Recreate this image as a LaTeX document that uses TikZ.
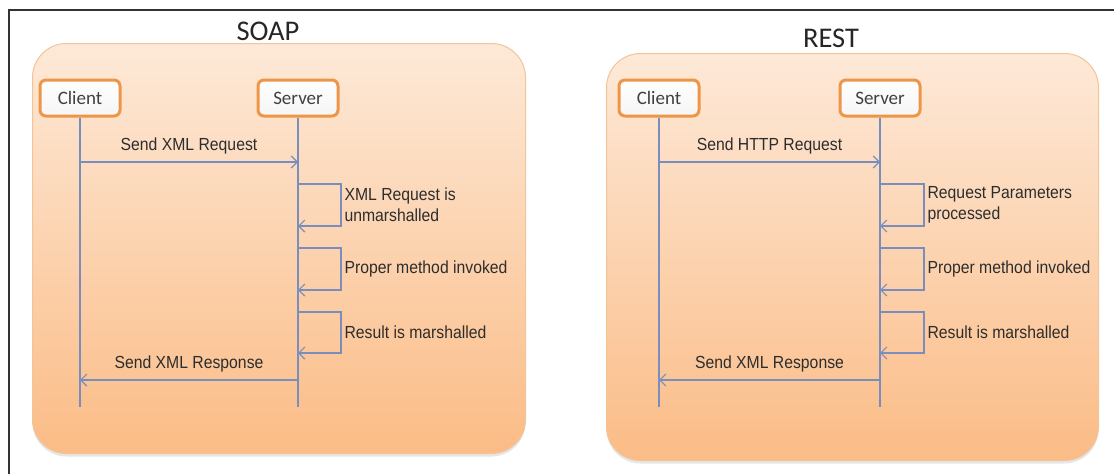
\documentclass[tikz,border=0pt]{standalone}
\usepackage{fontspec}
\setmainfont{Liberation Sans}[FakeStretch=0.9]
\newfontfamily\titlefont{Carlito}
\usepackage{tikz}
\usetikzlibrary{arrows.meta,positioning,shadows}

\definecolor{paneltop}{RGB}{253,233,216}
\definecolor{panelbottom}{RGB}{251,188,134}
\definecolor{paneledge}{RGB}{243,196,152}
\definecolor{boxorange}{RGB}{238,150,72}
\definecolor{lifeblue}{RGB}{122,142,190}
\definecolor{labelgrey}{RGB}{45,45,45}

\begin{document}
\begin{tikzpicture}[
  x=1pt, y=-1pt,
  panel/.style={
    draw=paneledge,
    line width=1pt,
    rounded corners=34pt,
    top color=paneltop,
    bottom color=panelbottom,
    minimum width=493pt,
    minimum height=410pt,
    anchor=north west,
    drop shadow={shadow xshift=0pt, shadow yshift=-3pt, opacity=0.2}
  },
  title/.style={font=\titlefont\fontsize{28.5}{32}\selectfont, text=black!85, inner sep=0pt, anchor=base},
  party/.style={
    draw=boxorange,
    line width=3pt,
    rounded corners=6pt,
    top color=white,
    bottom color=black!4,
    minimum width=80pt,
    minimum height=36pt,
    font=\titlefont\fontsize{19}{22}\selectfont,
    text=black!75
  },
  lifeline/.style={draw=lifeblue, line width=1.2pt},
  msg/.style={lifeline, -{Straight Barb[length=6pt, width=12pt]}},
  msglabel/.style={font=\fontsize{17.5}{21}\selectfont, text=labelgrey},
  note/.style={msglabel, align=left, anchor=west, inner sep=3pt}
]

\useasboundingbox (0,0) rectangle (1114,474);

% page frame, cut off at the right and bottom
\draw[line width=1.6pt, black!80] (9,474) -- (9,10) -- (1114,10);

% ---- SOAP
\node[panel] (soapPanel) at (32,43) {};
\node[title] (soapTitle) at (268,40) {SOAP};

\node[party] (soapClient) at (80,98) {Client};
\node[party] (soapServer) at (298,98) {Server};

\coordinate (soapClientEnd) at (80,407);
\coordinate (soapServerEnd) at (298,407);
\draw[lifeline] (soapClient) -- (soapClientEnd);
\draw[lifeline] (soapServer) -- (soapServerEnd);

\coordinate (soapReqC) at (80,162);
\coordinate (soapReqS) at (298,162);
\draw[msg] (soapReqC) -- node[msglabel, above=4pt] (soapReqLabel) {Send XML Request} (soapReqS);

\foreach \ya/\yb/\txt [count=\i] in {184/226/{XML Request is\\unmarshalled},
    248/290/{Proper method invoked}, 312/353/{Result is marshalled}} {
  \coordinate (soapLoop\i a) at (298,\ya);
  \coordinate (soapLoop\i b) at (298,\yb);
  \draw[msg] (soapLoop\i a) -- ++(43,0) |- node[note, pos=0.25] (soapStep\i) {\txt} (soapLoop\i b);
}

\coordinate (soapResS) at (298,380);
\coordinate (soapResC) at (80,380);
\draw[msg] (soapResS) -- node[msglabel, above=4pt] (soapResLabel) {Send XML Response} (soapResC);

% ---- REST
\node[panel, minimum width=492pt, minimum height=407pt] (restPanel) at (606,53) {};
\node[title] (restTitle) at (831,47) {REST};

\node[party] (restClient) at (659,98) {Client};
\node[party] (restServer) at (880,98) {Server};

\coordinate (restClientEnd) at (659,407);
\coordinate (restServerEnd) at (880,407);
\draw[lifeline] (restClient) -- (restClientEnd);
\draw[lifeline] (restServer) -- (restServerEnd);

\coordinate (restReqC) at (659,162);
\coordinate (restReqS) at (880,162);
\draw[msg] (restReqC) -- node[msglabel, above=4pt] (restReqLabel) {Send HTTP Request} (restReqS);

\foreach \ya/\yb/\txt [count=\i] in {184/226/{Request Parameters\\processed},
    248/290/{Proper method invoked}, 312/353/{Result is marshalled}} {
  \coordinate (restLoop\i a) at (880,\ya);
  \coordinate (restLoop\i b) at (880,\yb);
  \draw[msg] (restLoop\i a) -- ++(44,0) |- node[note, pos=0.25] (restStep\i) {\txt} (restLoop\i b);
}

\coordinate (restResS) at (880,380);
\coordinate (restResC) at (659,380);
\draw[msg] (restResS) -- node[msglabel, above=4pt] (restResLabel) {Send XML Response} (restResC);

\end{tikzpicture}
\end{document}
